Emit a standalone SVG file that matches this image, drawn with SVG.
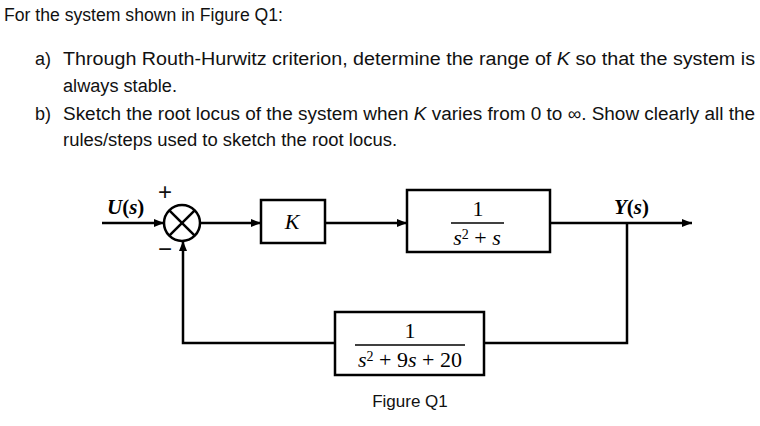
<svg xmlns="http://www.w3.org/2000/svg" width="760" height="426" viewBox="0 0 760 426">
<defs>
<marker id="ah" viewBox="0 0 10 8" refX="10" refY="4" markerWidth="10" markerHeight="8" markerUnits="userSpaceOnUse" orient="auto">
<path d="M0,0 L10,4 L0,8 z" fill="#000"/>
</marker>
<style>
.t{font-family:"Liberation Sans",Arial,sans-serif;font-size:18px;fill:#111}
.m{font-family:"Liberation Serif","Times New Roman",serif;font-size:22px;fill:#000}
.b{fill:#fff;stroke:#000;stroke-width:2.5}
.w{fill:none;stroke:#000;stroke-width:2.5}
</style>
</defs>
<rect width="760" height="426" fill="#fff"/>
<g id="question">
<text class="t" x="4" y="21" textLength="279" lengthAdjust="spacingAndGlyphs">For the system shown in Figure Q1:</text>
<text class="t" x="35" y="65">a)</text>
<text class="t" x="63" y="65" textLength="692" lengthAdjust="spacingAndGlyphs">Through Routh-Hurwitz criterion, determine the range of <tspan font-style="italic">K</tspan> so that the system is</text>
<text class="t" x="63" y="92" textLength="114" lengthAdjust="spacingAndGlyphs">always stable.</text>
<text class="t" x="35" y="120">b)</text>
<text class="t" x="63" y="120" textLength="692" lengthAdjust="spacingAndGlyphs">Sketch the root locus of the system when <tspan font-style="italic">K</tspan> varies from 0 to ∞. Show clearly all the</text>
<text class="t" x="63" y="146" textLength="334" lengthAdjust="spacingAndGlyphs">rules/steps used to sketch the root locus.</text>
</g>
<g id="connectors">
<line class="w" x1="102" y1="223" x2="164" y2="223" marker-end="url(#ah)"/>
<line class="w" x1="200" y1="223" x2="261" y2="223" marker-end="url(#ah)"/>
<line class="w" x1="325" y1="223" x2="407" y2="223" marker-end="url(#ah)"/>
<line class="w" x1="550" y1="223" x2="692" y2="223" marker-end="url(#ah)"/>
<polyline class="w" points="627,223 627,343 484,343"/>
<polyline class="w" points="335,343 183,343 183,241" marker-end="url(#ah)"/>
</g>
<g id="input_label">
<text class="m" x="107" y="214" style="font-weight:bold;font-size:21px"><tspan font-style="italic">U</tspan>(<tspan font-style="italic">s</tspan>)</text>
</g>
<g id="sum">
<circle class="b" cx="182" cy="223" r="18"/>
<line class="w" x1="169.3" y1="210.3" x2="194.7" y2="235.7"/>
<line class="w" x1="169.3" y1="235.7" x2="194.7" y2="210.3"/>
<text class="t" x="165" y="200" text-anchor="middle" style="font-size:24px">+</text>
<text class="t" x="165" y="257" text-anchor="middle" style="font-size:24px">−</text>
</g>
<g id="gain">
<rect class="b" x="261" y="200" width="64" height="43"/>
<text class="m" x="292" y="229" text-anchor="middle" font-style="italic">K</text>
</g>
<g id="plant">
<rect class="b" x="407" y="190" width="143" height="62"/>
<text class="m" x="478" y="216" text-anchor="middle">1</text>
<line x1="451" y1="223" x2="504" y2="223" stroke="#000" stroke-width="1.5"/>
<text class="m" x="477" y="245" text-anchor="middle"><tspan font-style="italic">s</tspan><tspan style="font-size:14px" dy="-6">2</tspan><tspan dy="6"> + </tspan><tspan font-style="italic">s</tspan></text>
</g>
<g id="output_label">
<text class="m" x="614" y="214" style="font-weight:bold;font-size:21px"><tspan font-style="italic">Y</tspan>(<tspan font-style="italic">s</tspan>)</text>
</g>
<g id="feedback">
<rect class="b" x="335" y="312" width="149" height="63"/>
<text class="m" x="410" y="338" text-anchor="middle">1</text>
<line x1="355" y1="345" x2="465" y2="345" stroke="#000" stroke-width="1.5"/>
<text class="m" x="410" y="367" text-anchor="middle"><tspan font-style="italic">s</tspan><tspan style="font-size:14px" dy="-6">2</tspan><tspan dy="6"> + 9</tspan><tspan font-style="italic">s</tspan> + 20</text>
</g>
<g id="caption">
<text class="t" x="410" y="407" text-anchor="middle" style="font-size:17px">Figure Q1</text>
</g>
</svg>
